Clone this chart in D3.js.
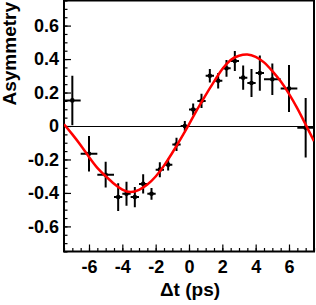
<!DOCTYPE html>
<html>
<head>
<meta charset="utf-8">
<script src="https://cdn.jsdelivr.net/npm/d3@7"></script>
<style>
  body { margin: 0; background: #fff; }
  svg text { font-family: "Liberation Sans", Arial, sans-serif; font-weight: bold; }
</style>
</head>
<body>
<svg id="canvas"></svg>
<script>
let width = 316
let height = 305

// measured points
let dt      = [-7, -6, -5, -4.25, -3.75, -3.25, -2.75, -2.25, -1.75, -1.25, -0.75, -0.25,
               0.25, 0.75, 1.25, 1.75, 2.25, 2.75, 3.25, 3.75, 4.25, 5, 6, 7]
let dtErr   = [0.5, 0.5, 0.5, 0.25, 0.25, 0.25, 0.25, 0.25, 0.25, 0.25, 0.25, 0.25,
               0.25, 0.25, 0.25, 0.25, 0.25, 0.25, 0.25, 0.25, 0.25, 0.5, 0.5, 0.5]
let asym    = [0.153, -0.166, -0.291, -0.425, -0.405, -0.425, -0.346, -0.405, -0.261, -0.231, -0.11, 0.0,
               0.099, 0.15, 0.30, 0.27, 0.345, 0.388, 0.289, 0.257, 0.316, 0.279, 0.224, -0.01]
let asymErr = [0.148, 0.106, 0.077, 0.083, 0.072, 0.06, 0.058, 0.035, 0.045, 0.035, 0.04, 0.03,
               0.035, 0.042, 0.04, 0.046, 0.05, 0.06, 0.072, 0.083, 0.106, 0.094, 0.14, 0.178]

// fit curve
let fitT = [-7.5, -7, -6.5, -6, -5.5, -5, -4.5, -4, -3.5, -3, -2.5, -2, -1.5, -1, -0.5, 0,
            0.5, 1, 1.5, 2, 2.5, 3, 3.5, 4, 4.5, 5, 5.5, 6, 6.5, 7, 7.5]
let fitA = [0.01, -0.05, -0.115, -0.185, -0.25, -0.3, -0.345, -0.38, -0.395, -0.382, -0.35, -0.302, -0.237, -0.16, -0.077, 0.01,
            0.1, 0.185, 0.265, 0.34, 0.395, 0.42, 0.427, 0.413, 0.38, 0.328, 0.267, 0.192, 0.105, 0.008, -0.09]

let xTicks = [-6, -4, -2, 0, 2, 4, 6]
let yTicks = [-0.6, -0.4, -0.2, 0, 0.2, 0.4, 0.6]

let padLeft = 64, padRight = 314, padTop = 0.5, padBottom = 251.5

let canvas = d3.select("#canvas")
    .attr("width", width)
    .attr("height", height)

let xScale = d3.scaleLinear().domain([-7.5, 7.5]).range([padLeft, padRight])
let yScale = d3.scaleLinear().domain([-0.75, 0.75]).range([padBottom, padTop])

canvas.append("clipPath").attr("id", "plot")
    .append("rect")
    .attr("x", padLeft).attr("y", padTop)
    .attr("width", padRight - padLeft).attr("height", padBottom - padTop)

// zero line
canvas.append("line")
    .attr("x1", padLeft).attr("x2", padRight)
    .attr("y1", yScale(0)).attr("y2", yScale(0))
    .attr("stroke", "#000").attr("stroke-width", 1)
    .attr("shape-rendering", "crispEdges")

// axes: minor ticks, then major with labels
let xMinor = d3.range(-7.5, 7.51, 0.5)
let yMinor = d3.range(-0.75, 0.751, 0.05)

canvas.append("g")
    .attr("transform", "translate(0," + padBottom + ")")
    .call(d3.axisBottom(xScale).tickValues(xMinor).tickSize(-3.5).tickFormat(""))
    .call(g => g.select(".domain").remove())
canvas.append("g")
    .attr("transform", "translate(" + padLeft + ",0)")
    .call(d3.axisLeft(yScale).tickValues(yMinor).tickSize(-3.5).tickFormat(""))
    .call(g => g.select(".domain").remove())

let xAxis = canvas.append("g")
    .attr("transform", "translate(0," + padBottom + ")")
    .call(d3.axisBottom(xScale).tickValues(xTicks).tickSize(-7).tickPadding(4).tickFormat(d => String(d)))
xAxis.select(".domain").remove()
xAxis.selectAll("text").attr("font-size", 18).attr("dy", "0.95em")

let yAxis = canvas.append("g")
    .attr("transform", "translate(" + padLeft + ",0)")
    .call(d3.axisLeft(yScale).tickValues(yTicks).tickSize(-7).tickPadding(5).tickFormat(d => String(d)))
yAxis.select(".domain").remove()
yAxis.selectAll("text").attr("font-size", 18)

canvas.selectAll(".tick line").attr("stroke-width", 1.2)

// frame
canvas.append("rect")
    .attr("x", padLeft).attr("y", padTop)
    .attr("width", padRight - padLeft).attr("height", padBottom - padTop)
    .attr("fill", "none").attr("stroke", "#000").attr("stroke-width", 2)

// data points
let pts = canvas.append("g").attr("clip-path", "url(#plot)")
let idx = d3.range(dt.length)

pts.selectAll(".ey").data(idx).enter().append("line")
    .attr("x1", i => xScale(dt[i])).attr("x2", i => xScale(dt[i]))
    .attr("y1", i => yScale(asym[i] - asymErr[i]))
    .attr("y2", i => yScale(asym[i] + asymErr[i]))
    .attr("stroke", "#000").attr("stroke-width", 2)

pts.selectAll(".ex").data(idx).enter().append("line")
    .attr("x1", i => xScale(dt[i] - dtErr[i])).attr("x2", i => xScale(dt[i] + dtErr[i]))
    .attr("y1", i => yScale(asym[i])).attr("y2", i => yScale(asym[i]))
    .attr("stroke", "#000").attr("stroke-width", 2)

pts.selectAll("circle").data(idx).enter().append("circle")
    .attr("cx", i => xScale(dt[i])).attr("cy", i => yScale(asym[i]))
    .attr("r", 2.3).attr("fill", "#000")

// fit curve
let line = d3.line()
    .x(i => xScale(fitT[i]))
    .y(i => yScale(fitA[i]))
    .curve(d3.curveNatural)

canvas.append("g").attr("clip-path", "url(#plot)")
    .append("path")
    .attr("d", line(d3.range(fitT.length)))
    .attr("fill", "none").attr("stroke", "#ff0000").attr("stroke-width", 2.5)

// titles
canvas.append("text")
    .attr("transform", "translate(16,2) rotate(-90)")
    .attr("text-anchor", "end")
    .attr("font-size", 19)
    .text("Asymmetry")

canvas.append("text")
    .attr("x", 190).attr("y", 296)
    .attr("text-anchor", "middle")
    .attr("font-size", 19)
    .text("Δt (ps)")
</script>
</body>
</html>
